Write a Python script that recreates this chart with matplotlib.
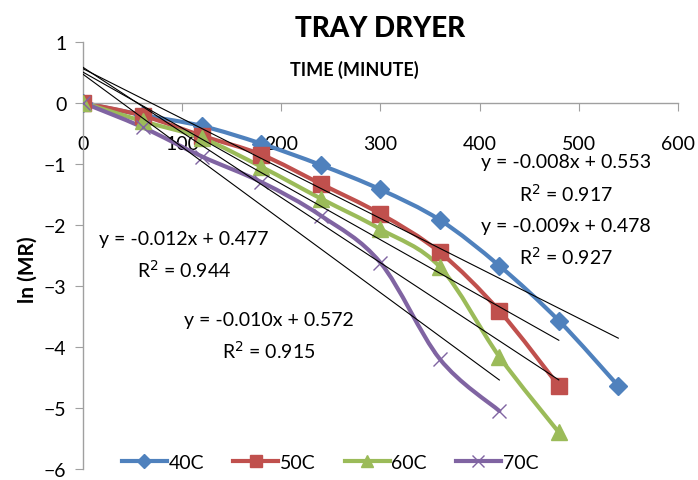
import numpy as np
import matplotlib
matplotlib.use("Agg")
import matplotlib.pyplot as plt
from matplotlib.path import Path
from matplotlib.patches import PathPatch
from matplotlib.lines import Line2D

plt.rcParams['font.family'] = ['Lato', 'DejaVu Sans']

# time in minutes and ln(MR)
t40 = [0, 60, 120, 180, 240, 300, 360, 420, 480, 540]
y40 = [0, -0.20, -0.38, -0.67, -1.02, -1.42, -1.92, -2.67, -3.57, -4.64]
t50 = [0, 60, 120, 180, 240, 300, 360, 420, 480]
y50 = [0, -0.21, -0.54, -0.85, -1.33, -1.82, -2.45, -3.41, -4.64]
t60 = [0, 60, 120, 180, 240, 300, 360, 420, 480]
y60 = [0, -0.30, -0.58, -1.05, -1.57, -2.07, -2.69, -4.16, -5.40]
t70 = [0, 60, 120, 180, 240, 300, 360, 420]
y70 = [0, -0.40, -0.88, -1.30, -1.85, -2.62, -4.20, -5.05]

labels = ['40C', '50C', '60C', '70C']
colors = ['#4F81BD', '#C0504D', '#9BBB59', '#8064A2']
markers = ['D', 's', '^', 'x']
msizes = [9, 11, 11, 10]

# trendline labels as printed on the chart
eq_text = ['y = -0.008x + 0.553\nR$^2$ = 0.917',
           'y = -0.009x + 0.478\nR$^2$ = 0.927',
           'y = -0.010x + 0.572\nR$^2$ = 0.915',
           'y = -0.012x + 0.477\nR$^2$ = 0.944']
eq_pos = [(487, -1.24), (487, -2.28), (187, -3.82), (102, -2.49)]


def smooth_path(x, y):
    # excel-style smoothed line: cubic bezier segments through the points
    p = np.column_stack([x, y]).astype(float)
    n = len(p)
    verts = [p[0]]
    codes = [Path.MOVETO]
    for i in range(n - 1):
        p0 = p[i - 1] if i > 0 else p[i]
        p3 = p[i + 2] if i + 2 < n else p[i + 1]
        c1 = p[i] + (p[i + 1] - p0) / 6
        c2 = p[i + 1] - (p3 - p[i]) / 6
        verts += [c1, c2, p[i + 1]]
        codes += [Path.CURVE4] * 3
    return Path(verts, codes)


fig = plt.figure(figsize=(6.98, 4.81), dpi=100)
ax = fig.add_axes([0.119, 0.023, 0.852, 0.888])

series = [(t40, y40), (t50, y50), (t60, y60), (t70, y70)]
handles = []
for (t, y), lab, c, m, ms in zip(series, labels, colors, markers, msizes):
    ax.add_patch(PathPatch(smooth_path(t, y), facecolor='none', edgecolor=c,
                           lw=3, zorder=2, capstyle='round'))
    ax.plot(t, y, ls='none', marker=m, ms=ms, color=c, mew=1, zorder=3)
    handles.append(Line2D([], [], color=c, lw=3, marker=m, ms=ms - 2, mew=1))

    # linear trendline over the data range
    k, b = np.polyfit(t, y, 1)
    xs = np.array([0, t[-1]])
    ax.plot(xs, k * xs + b, color='black', lw=0.8, zorder=4)

for txt, (px, py) in zip(eq_text, eq_pos):
    ax.text(px, py, txt, ha='center', va='center', fontsize=14,
            linespacing=1.6, color='black')

ax.set_xlim(0, 600)
ax.set_ylim(-6, 1)
ax.set_xticks(range(0, 601, 100))
ax.set_yticks(range(-6, 2))

for s in ['top', 'right']:
    ax.spines[s].set_visible(False)
ax.spines['bottom'].set_position(('data', 0))
ax.spines['left'].set_position(('data', 0))
for s in ['bottom', 'left']:
    ax.spines[s].set_color('#A0A0A0')
    ax.spines[s].set_linewidth(1)
ax.tick_params(axis='x', direction='out', length=6, color='#A0A0A0',
               labelsize=14, pad=17)
ax.tick_params(axis='y', direction='out', length=6, color='#A0A0A0',
               labelsize=14, pad=6)

fig.text(0.545, 0.94, 'TRAY DRYER', ha='center', va='center',
         fontsize=20, fontweight='black')
fig.text(0.508, 0.855, 'TIME (MINUTE)', ha='center', va='center',
         fontsize=13, fontweight='bold')
fig.text(0.04, 0.44, 'ln (MR)', ha='center', va='center', rotation=90,
         fontsize=15, fontweight='bold')

fig.legend(handles, labels, loc='center', ncol=4, frameon=False,
           bbox_to_anchor=(0.473, 0.037), fontsize=14, handlelength=2.3,
           handletextpad=0.1, columnspacing=1.5)

fig.savefig('out.png', dpi=100)
